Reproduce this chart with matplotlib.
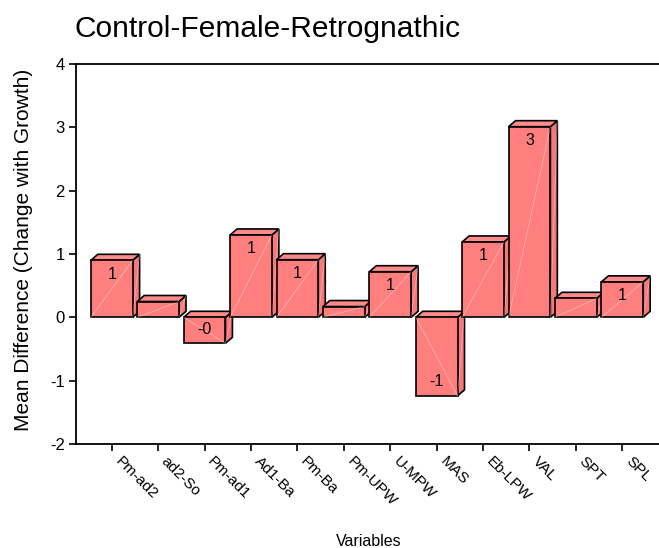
"""Control-Female-Retrognathic: 3D-style bar chart of mean differences."""
import matplotlib
matplotlib.use('Agg')
import matplotlib.pyplot as plt
from matplotlib.patches import Polygon, Rectangle

plt.rcParams['font.family'] = ['Liberation Sans', 'DejaVu Sans']

# data
variables = ['Pm-ad2', 'ad2-So', 'Pm-ad1', 'Ad1-Ba', 'Pm-Ba', 'Pm-UPW',
             'U-MPW', 'MAS', 'Eb-LPW', 'VAL', 'SPT', 'SPL']
mean_diff = [0.90, 0.25, -0.41, 1.30, 0.91, 0.17,
             0.72, -1.24, 1.19, 3.01, 0.30, 0.56]
y_ticks = [-2, -1, 0, 1, 2, 3, 4]

FACE = '#ff7f7f'
SIDE = '#f77878'
TOP = '#ff8a8a'

W, H = 659, 548
fig = plt.figure(figsize=(W / 100, H / 100), dpi=100)
ax = fig.add_axes([76 / W, 104 / H, 583 / W, 380 / H])
ax.set_xlim(-0.77, 11.79)
ax.set_ylim(-2, 4)

# depth of the fake 3D boxes in data units (~7px right, ~6px up)
dx, dy = 0.15, 0.095
bw = 0.9

for i, v in enumerate(mean_diff):
    lo, hi = min(0, v), max(0, v)
    x0, x1 = i - bw / 2, i + bw / 2
    z = 3 + i
    side = Polygon([(x1, lo), (x1 + dx, lo + dy), (x1 + dx, hi + dy), (x1, hi)],
                   closed=True, facecolor=SIDE, edgecolor='black', lw=1.2, zorder=z)
    top = Polygon([(x0, hi), (x0 + dx, hi + dy), (x1 + dx, hi + dy), (x1, hi)],
                  closed=True, facecolor=TOP, edgecolor='black', lw=1.2, zorder=z)
    front = Rectangle((x0, lo), bw, hi - lo, facecolor=FACE,
                      edgecolor='black', lw=1.2, zorder=z + 0.1)
    for p in (side, top, front):
        ax.add_patch(p)
    # faint gradient seams
    if v >= 0:
        ax.plot([x0, x1], [lo, hi], color='white', lw=0.5, alpha=0.45, zorder=z + 0.2)
    else:
        ax.plot([x0, x1], [hi, lo], color='white', lw=0.5, alpha=0.45, zorder=z + 0.2)
    ax.plot([x1, x1 + dx], [lo, hi + dy], color='white', lw=0.5, alpha=0.4, zorder=z + 0.2)

    if abs(v) >= 0.35:
        off = -10 if v >= 0 else 10
        ax.annotate(f'{v:.0f}', (i, v), xytext=(0, off), textcoords='offset points',
                    ha='center', va='center', fontsize=11.5, zorder=30)

# x tick labels, rotated and nudged right of each tick
ax.set_xticks(range(len(variables)))
ax.set_xticklabels([''] * len(variables))
for i, name in enumerate(variables):
    ax.annotate(name, (i, 0), xycoords=('data', 'axes fraction'),
                xytext=(7.5, -7), textcoords='offset points',
                rotation=-45, ha='left', va='top', rotation_mode='anchor',
                fontsize=11, annotation_clip=False)

ax.set_yticks(y_ticks)
ax.set_yticklabels([str(t) for t in y_ticks], fontsize=12)
ax.tick_params(direction='out', length=5, width=1.2, pad=3)

ax.spines['right'].set_visible(False)
for s in ('left', 'bottom', 'top'):
    ax.spines[s].set_linewidth(1.3)

fig.text(75 / W, 1 - 37 / H, 'Control-Female-Retrognathic', fontsize=21.5,
         ha='left', va='baseline')
fig.text(24 / W, 1 - 250 / H, 'Mean Difference (Change with Growth)',
         fontsize=15, rotation=90, ha='center', va='center')
fig.text(369 / W, 1 - 541 / H, 'Variables', fontsize=11.5, ha='center', va='center')

fig.savefig('out.png', dpi=100)
